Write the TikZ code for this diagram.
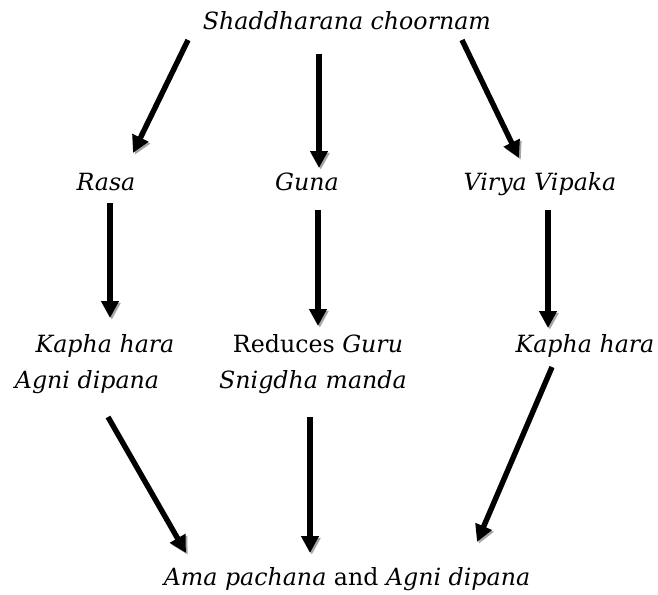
\documentclass[tikz,border=0pt]{standalone}
\usepackage{fontspec}
\setmainfont{DejaVu Serif}
\usetikzlibrary{arrows.meta}
\tikzset{
  lbl/.style={anchor=base, inner sep=0pt, font=\fontsize{23.7}{26}\selectfont},
  fat/.style={line width=5.4pt, -{Triangle[length=17pt,width=17pt]},
    preaction={draw=black!35, transform canvas={shift={(1.8pt,-1.8pt)}}}}
}
\begin{document}
\begin{tikzpicture}[x=1pt,y=-1pt]
\useasboundingbox (0,0) rectangle (658,594);
% texts
\node[lbl] (title) at (347,30) {\textit{Shaddharana choornam}};
\node[lbl] (rasa) at (106,190) {\textit{Rasa}};
\node[lbl] (guna) at (307,190) {\textit{Guna}};
\node[lbl] (virya) at (540,190) {\textit{Virya Vipaka}};
\node[lbl] (kh1) at (105,352) {\textit{Kapha hara}};
\node[lbl] (ad1) at (87,388) {\textit{Agni dipana}};
\node[lbl] (red) at (318,352) {Reduces \textit{Guru}};
\node[lbl] (sni) at (313,388) {\textit{Snigdha manda}};
\node[lbl] (kh2) at (585,352) {\textit{Kapha hara}};
\node[lbl] (fin) at (347,585) {\textit{Ama pachana} and \textit{Agni dipana}};
% arrow end points
\coordinate (a1s) at (188,40);  \coordinate (a1e) at (133,153);
\coordinate (a2s) at (319,54);  \coordinate (a2e) at (319,168);
\coordinate (a3s) at (462,40);  \coordinate (a3e) at (519,158);
\coordinate (b1s) at (110,203); \coordinate (b1e) at (110,318);
\coordinate (b2s) at (318,210); \coordinate (b2e) at (318,326);
\coordinate (b3s) at (548,210); \coordinate (b3e) at (548,328);
\coordinate (c1s) at (108,417); \coordinate (c1e) at (186,553);
\coordinate (c2s) at (310,417); \coordinate (c2e) at (310,553);
\coordinate (c3s) at (552,367); \coordinate (c3e) at (477,542);
% arrows
\draw[fat] (a1s) -- (a1e);
\draw[fat] (a2s) -- (a2e);
\draw[fat] (a3s) -- (a3e);
\draw[fat] (b1s) -- (b1e);
\draw[fat] (b2s) -- (b2e);
\draw[fat] (b3s) -- (b3e);
\draw[fat] (c1s) -- (c1e);
\draw[fat] (c2s) -- (c2e);
\draw[fat] (c3s) -- (c3e);
\end{tikzpicture}
\end{document}
